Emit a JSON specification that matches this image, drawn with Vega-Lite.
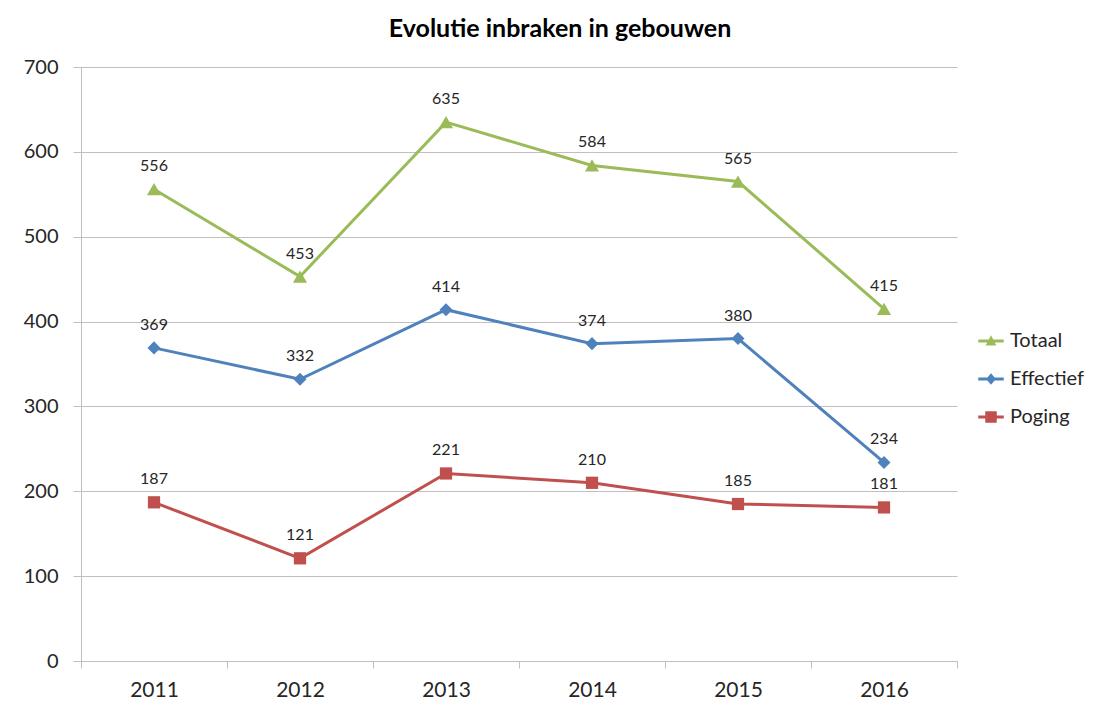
{
  "$schema": "https://vega.github.io/schema/vega-lite/v6.json",
  "autosize": "none",
  "width": 876,
  "height": 594,
  "padding": {"left": 81, "top": 67, "right": 140, "bottom": 40},
  "background": "white",
  "title": {
    "text": "Evolutie inbraken in gebouwen",
    "font": "Lato",
    "fontSize": 25,
    "fontWeight": "bold",
    "color": "#000000",
    "anchor": "middle",
    "dx": 41,
    "offset": 15
  },
  "config": {
    "view": {"stroke": null},
    "font": "Lato"
  },
  "data": {
    "values": [
      {"year": "2011", "series": "Totaal", "value": 556},
      {"year": "2012", "series": "Totaal", "value": 453},
      {"year": "2013", "series": "Totaal", "value": 635},
      {"year": "2014", "series": "Totaal", "value": 584},
      {"year": "2015", "series": "Totaal", "value": 565},
      {"year": "2016", "series": "Totaal", "value": 415},
      {"year": "2011", "series": "Effectief", "value": 369},
      {"year": "2012", "series": "Effectief", "value": 332},
      {"year": "2013", "series": "Effectief", "value": 414},
      {"year": "2014", "series": "Effectief", "value": 374},
      {"year": "2015", "series": "Effectief", "value": 380},
      {"year": "2016", "series": "Effectief", "value": 234},
      {"year": "2011", "series": "Poging", "value": 187},
      {"year": "2012", "series": "Poging", "value": 121},
      {"year": "2013", "series": "Poging", "value": 221},
      {"year": "2014", "series": "Poging", "value": 210},
      {"year": "2015", "series": "Poging", "value": 185},
      {"year": "2016", "series": "Poging", "value": 181}
    ]
  },
  "encoding": {
    "x": {
      "field": "year",
      "type": "ordinal",
      "scale": {"type": "band", "paddingInner": 0, "paddingOuter": 0},
      "axis": {
        "title": null,
        "labelAngle": 0,
        "labelFont": "Lato",
        "labelFontSize": 21,
        "labelColor": "#262626",
        "labelPadding": 11,
        "tickBand": "extent",
        "tickSize": 7,
        "tickColor": "#BFBFBF",
        "domainColor": "#BFBFBF",
        "grid": false
      }
    },
    "y": {
      "field": "value",
      "type": "quantitative",
      "scale": {"domain": [0, 700], "nice": false},
      "axis": {
        "title": null,
        "values": [0, 100, 200, 300, 400, 500, 600, 700],
        "labelFont": "Lato",
        "labelFontSize": 20,
        "labelColor": "#262626",
        "labelPadding": 15,
        "tickSize": 8,
        "tickColor": "#BFBFBF",
        "domainColor": "#BFBFBF",
        "gridColor": "#BFBFBF",
        "grid": true
      }
    },
    "color": {
      "field": "series",
      "type": "nominal",
      "scale": {"domain": ["Totaal", "Effectief", "Poging"], "range": ["#9BBB59", "#4F81BD", "#C0504D"]},
      "legend": {
        "title": null,
        "orient": "none",
        "legendX": 897,
        "legendY": 261,
        "labelFont": "Lato",
        "labelFontSize": 20,
        "labelColor": "#262626",
        "labelOffset": 6,
        "rowPadding": 15,
        "symbolSize": 650,
        "symbolStrokeWidth": 0,
        "encode": {
          "symbols": {
            "update": {
              "shape": {"signal": "datum.value === 'Totaal' ? 'M-1,-0.11H1V0.11H-1Z M0,-0.45L0.42,0.35H-0.42Z' : datum.value === 'Effectief' ? 'M-1,-0.11H1V0.11H-1Z M0,-0.45L0.38,0L0,0.45L-0.38,0Z' : 'M-1,-0.11H1V0.11H-1Z M-0.45,-0.45H0.45V0.45H-0.45Z'"},
              "fill": {"scale": "color", "field": "value"},
              "opacity": {"value": 1},
              "strokeWidth": {"value": 0}
            }
          }
        }
      }
    }
  },
  "layer": [
    {
      "mark": {"type": "line", "strokeWidth": 3}
    },
    {
      "mark": {"type": "point", "filled": true, "opacity": 1},
      "encoding": {
        "shape": {
          "condition": [
            {"test": "datum.series === 'Totaal'", "value": "triangle-up"},
            {"test": "datum.series === 'Effectief'", "value": "diamond"}
          ],
          "value": "square"
        },
        "size": {
          "condition": [
            {"test": "datum.series === 'Totaal'", "value": 200},
            {"test": "datum.series === 'Effectief'", "value": 170}
          ],
          "value": 150
        }
      }
    },
    {
      "mark": {"type": "text", "dy": -23, "font": "Lato", "fontSize": 16, "color": "#262626"},
      "encoding": {
        "text": {"field": "value", "type": "quantitative"},
        "color": {"value": "#262626"}
      }
    }
  ]
}
